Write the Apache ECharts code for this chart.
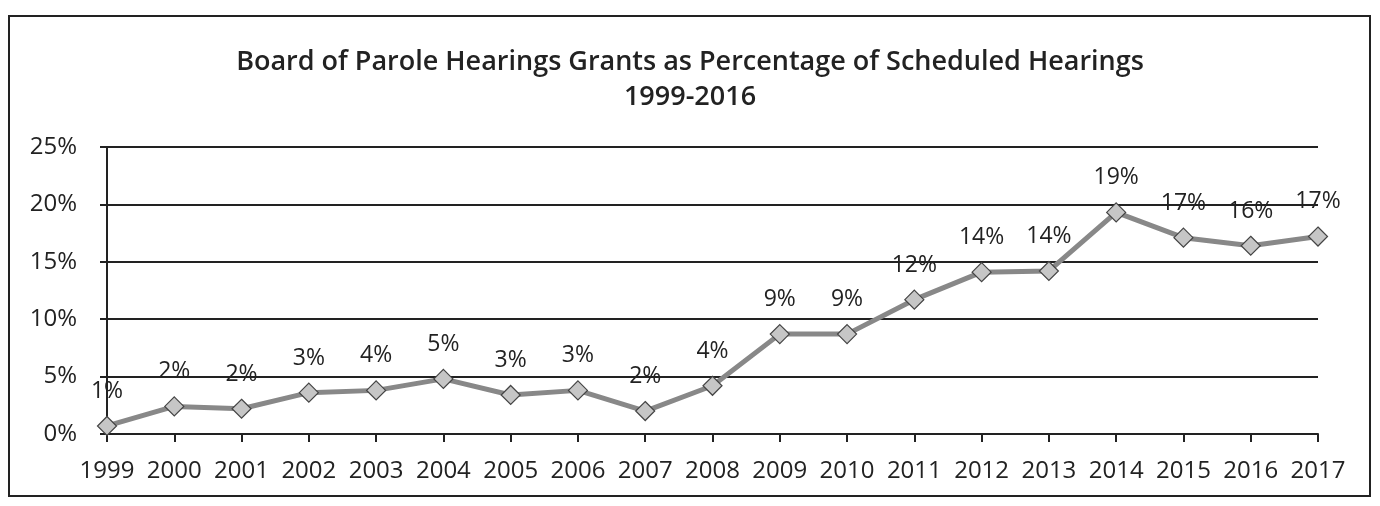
<!DOCTYPE html>
<html>
<head>
<meta charset="utf-8">
<script src="https://cdn.jsdelivr.net/npm/echarts@6/dist/echarts.min.js"></script>
<style>
html,body{margin:0;padding:0;background:#fff;}
#chart{width:1380px;height:506px;}
</style>
</head>
<body>
<div id="chart"></div>
<script>
const years = ['1999','2000','2001','2002','2003','2004','2005','2006','2007','2008','2009','2010','2011','2012','2013','2014','2015','2016','2017'];
const grantPct = [0.7, 2.4, 2.2, 3.6, 3.8, 4.8, 3.4, 3.8, 2.0, 4.2, 8.7, 8.7, 11.7, 14.1, 14.2, 19.3, 17.1, 16.4, 17.2];
const pointLabels = ['1%','2%','2%','3%','4%','5%','3%','3%','2%','4%','9%','9%','12%','14%','14%','19%','17%','16%','17%'];
const yTicks = [0, 5, 10, 15, 20, 25];
const titleLine1 = 'Board of Parole Hearings Grants as Percentage of Scheduled Hearings';
const titleLine2 = '1999-2016';

const FONT = '"Open Sans", Lato, sans-serif';
const chart = echarts.init(document.getElementById('chart'), null, {renderer: 'canvas'});
chart.setOption({
  backgroundColor: '#ffffff',
  animation: false,
  title: [{
    text: titleLine1,
    left: 'center',
    top: 44,
    textStyle: {fontFamily: FONT, fontWeight: 600, fontSize: 27, color: '#222'}
  }, {
    text: titleLine2,
    left: 'center',
    top: 79,
    textStyle: {fontFamily: FONT, fontWeight: 600, fontSize: 27, color: '#222'}
  }],
  graphic: [{
    type: 'rect',
    shape: {x: 9, y: 16, width: 1361, height: 480},
    style: {fill: 'none', stroke: '#222', lineWidth: 2},
    silent: true
  }],
  grid: {left: 107, right: 62, top: 147, bottom: 72, containLabel: false},
  xAxis: {
    type: 'category',
    data: years,
    boundaryGap: false,
    axisLine: {lineStyle: {color: '#222', width: 2}},
    axisTick: {show: true, alignWithLabel: true, length: 8, lineStyle: {color: '#222', width: 2}},
    axisLabel: {fontFamily: FONT, fontSize: 24, color: '#222', margin: 25, interval: 0}
  },
  yAxis: {
    type: 'value',
    min: yTicks[0],
    max: yTicks[yTicks.length - 1],
    interval: 5,
    axisLine: {show: true, lineStyle: {color: '#222', width: 2}},
    axisTick: {show: true, length: 7, lineStyle: {color: '#222', width: 2}},
    axisLabel: {fontFamily: FONT, fontSize: 24, color: '#222', margin: 30, formatter: '{value}%'},
    splitLine: {show: true, lineStyle: {color: '#222', width: 2}}
  },
  series: [{
    type: 'line',
    data: grantPct,
    symbol: 'diamond',
    symbolSize: 19,
    lineStyle: {color: '#888888', width: 5},
    itemStyle: {color: '#c6c6c6', borderColor: '#444', borderWidth: 1.2},
    label: {
      show: true,
      position: 'top',
      distance: 13,
      fontFamily: FONT,
      fontSize: 23,
      color: '#222',
      formatter: p => pointLabels[p.dataIndex]
    }
  }]
});
</script>
</body>
</html>
